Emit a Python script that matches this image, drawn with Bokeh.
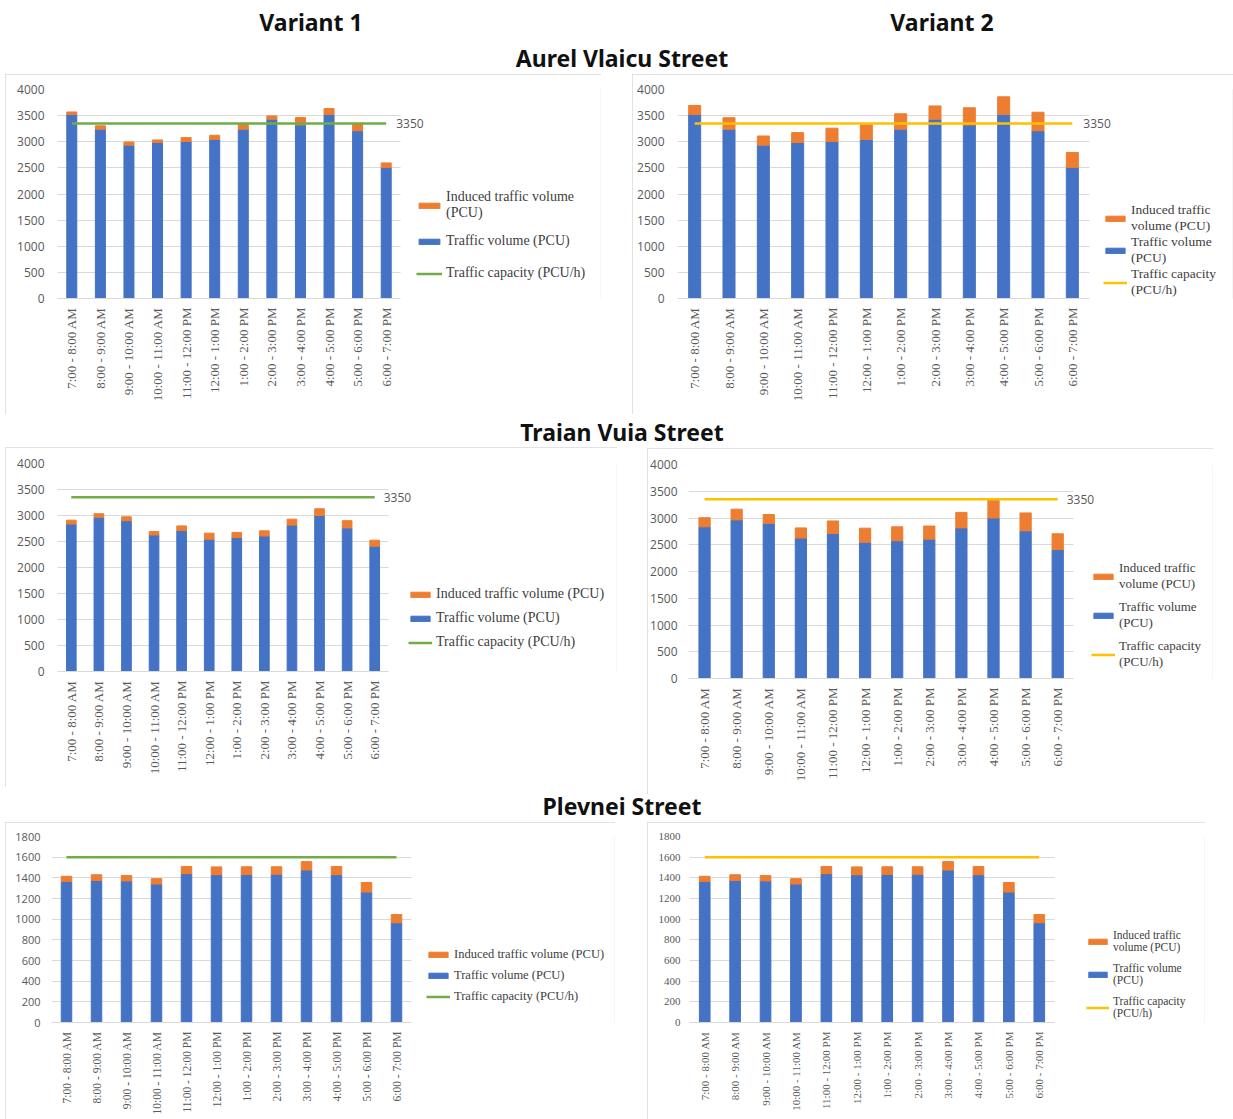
import math
from bokeh.plotting import figure
from bokeh.models import (ColumnDataSource, Range1d, FixedTicker, Legend, LegendItem, Div, Grid)
from bokeh.layouts import column, row
from bokeh.embed import file_html
from bokeh.resources import INLINE
from bokeh.core.properties import value

# ---------------- data ----------------
categories = ["7:00 - 8:00 AM", "8:00 - 9:00 AM", "9:00 - 10:00 AM", "10:00 - 11:00 AM",
              "11:00 - 12:00 PM", "12:00 - 1:00 PM", "1:00 - 2:00 PM", "2:00 - 3:00 PM",
              "3:00 - 4:00 PM", "4:00 - 5:00 PM", "5:00 - 6:00 PM", "6:00 - 7:00 PM"]

aurel_volume = [3520, 3240, 2935, 2985, 3005, 3045, 3240, 3430, 3320, 3520, 3210, 2505]
aurel_induced_v1 = [50, 65, 60, 50, 75, 80, 95, 65, 145, 115, 125, 90]
aurel_induced_v2 = [175, 220, 175, 190, 255, 280, 295, 255, 330, 340, 355, 290]
aurel_capacity = [3350, 3350, 3350, 3350, 3350, 3350, 3350, 3350, 3350, 3350, 3350, 3350]

traian_volume = [2835, 2965, 2900, 2625, 2710, 2545, 2575, 2605, 2815, 3000, 2760, 2410]
traian_induced_v1 = [75, 70, 75, 65, 90, 115, 100, 100, 115, 130, 140, 115]
traian_induced_v2 = [170, 200, 165, 190, 235, 265, 260, 245, 290, 345, 335, 295]
traian_capacity = [3350, 3350, 3350, 3350, 3350, 3350, 3350, 3350, 3350, 3350, 3350, 3350]

plevnei_volume = [1365, 1375, 1370, 1340, 1440, 1430, 1432, 1435, 1475, 1430, 1262, 965]
plevnei_induced_v1 = [50, 55, 52, 52, 70, 76, 75, 72, 82, 80, 93, 80]
plevnei_induced_v2 = [50, 55, 52, 52, 70, 76, 75, 72, 82, 80, 93, 80]
plevnei_capacity = [1600, 1600, 1600, 1600, 1600, 1600, 1600, 1600, 1600, 1600, 1600, 1600]

ticks_4000 = [0, 500, 1000, 1500, 2000, 2500, 3000, 3500, 4000]
ticks_1800 = [0, 200, 400, 600, 800, 1000, 1200, 1400, 1600, 1800]

labels_wide = ["Induced traffic volume\n(PCU)", "Traffic volume (PCU)", "Traffic capacity (PCU/h)"]
labels_one = ["Induced traffic volume (PCU)", "Traffic volume (PCU)", "Traffic capacity (PCU/h)"]
labels_narrow = ["Induced traffic\nvolume (PCU)", "Traffic volume\n(PCU)", "Traffic capacity\n(PCU/h)"]

BLUE = "#4472C4"
ORANGE = "#ED7D31"
GREEN = "#70AD47"
YELLOW = "#FFC000"
GRID = "#d9d9d9"
TICK = "#595959"

HAS_CROSS = "cross_bounds" in Grid.properties()


def make_panel(volume, induced, capacity, yticks, line_color, labels, cfg):
    n = len(categories)
    idx = list(range(n))
    src = ColumnDataSource(dict(x=idx, volume=volume, induced=induced, cap=capacity))
    frame_total = cfg["w"] - cfg["bl"] - 1
    x_end = -0.5 + frame_total * n / cfg["fw"]
    p = figure(width=cfg["w"], height=cfg["h"], x_range=Range1d(-0.5, x_end),
               y_range=Range1d(0, yticks[-1]), output_backend="svg", toolbar_location=None,
               min_border_left=cfg["bl"], min_border_right=1,
               min_border_top=cfg["bt"], min_border_bottom=cfg["h"] - cfg["bt"] - cfg["fh"],
               margin=(cfg.get("mt", 0), 0, 0, cfg["ml"]),
               styles={"outline": "1px solid #d9d9d9", "outline-offset": "-1px"})
    p.outline_line_color = None
    # grid / axes
    p.xgrid.grid_line_color = None
    if HAS_CROSS:
        p.ygrid.grid_line_color = GRID
        p.ygrid.cross_bounds = (-0.5, n - 0.5)
    else:
        p.ygrid.grid_line_color = None
        p.segment(x0=[-0.5] * len(yticks), x1=[n - 0.5] * len(yticks), y0=yticks, y1=yticks,
                  line_color=GRID, line_width=1)
    bars = p.vbar_stack(["volume", "induced"], x="x", width=0.35, color=[BLUE, ORANGE], source=src)
    ln = p.line("x", "cap", source=src, line_color=line_color, line_width=2.5)
    if cfg.get("cap_label"):
        p.text(x=[idx[-1]], y=[capacity[-1]], text=[str(capacity[-1])], x_offset=cfg["cap_dx"],
               text_baseline="middle", text_align="left", text_font=value("Open Sans"),
               text_font_size="12px", text_color=TICK)
    p.yaxis.ticker = FixedTicker(ticks=yticks)
    p.yaxis.axis_line_color = None
    p.yaxis.major_tick_line_color = None
    p.yaxis.minor_tick_line_color = None
    p.yaxis.major_tick_out = 0
    p.yaxis.major_tick_in = 0
    p.yaxis.minor_tick_out = 0
    p.yaxis.major_label_text_font = cfg.get("yfont", "Open Sans")
    p.yaxis.major_label_text_font_size = cfg["yfs"]
    p.yaxis.major_label_text_color = TICK
    p.yaxis.major_label_standoff = cfg["ystand"]
    p.xaxis.ticker = FixedTicker(ticks=idx)
    p.xaxis.major_label_overrides = {i: c for i, c in zip(idx, categories)}
    p.xaxis.bounds = (-0.5, n - 0.5)
    p.xaxis.axis_line_color = GRID
    p.xaxis.major_tick_line_color = None
    p.xaxis.minor_tick_line_color = None
    p.xaxis.major_tick_out = 0
    p.xaxis.major_tick_in = 0
    p.xaxis.minor_tick_out = 0
    p.xaxis.major_label_orientation = math.pi / 2
    p.xaxis.major_label_text_font = "Liberation Serif"
    p.xaxis.major_label_text_font_size = cfg["xfs"]
    p.xaxis.major_label_text_color = TICK
    p.xaxis.major_label_standoff = 9
    # legend
    items = [LegendItem(label=labels[0], renderers=[bars[1]]),
             LegendItem(label=labels[1], renderers=[bars[0]]),
             LegendItem(label=labels[2], renderers=[ln])]
    lg = Legend(items=items, location=(cfg["lx"], cfg["ly"]), orientation="vertical",
                label_text_font="Liberation Serif", label_text_font_size=cfg["lfs"],
                label_text_color="#404040", label_text_line_height=cfg["llh"],
                glyph_width=cfg["gw"], glyph_height=7, label_height=cfg["lh"],
                label_standoff=4, spacing=cfg["sp"], padding=0, margin=0,
                border_line_color=None, background_fill_alpha=0)
    p.add_layout(lg)
    return p


cfg_a1 = dict(w=596, h=340, ml=5, bl=52, fw=343, bt=15, fh=209, yfs="12px", ystand=13, xfs="13px",
              lx=359, ly=13, lfs="14px", llh=1.1, gw=26, lh=24, sp=8, cap_label=True, cap_dx=10)
cfg_a2 = dict(w=601, h=340, ml=31, bl=45, fw=412, bt=15, fh=209, yfs="12px", ystand=13, xfs="13px",
              lx=426, ly=0, lfs="13.5px", llh=1.0, gw=24, lh=14, sp=0, cap_label=True, cap_dx=11)
cfg_t1 = dict(w=612, h=340, ml=5, bl=52, fw=331, bt=16, fh=208, yfs="12px", ystand=13, xfs="13px",
              lx=351, ly=21, lfs="14px", llh=1.1, gw=24, lh=15, sp=8, cap_label=True, cap_dx=9)
cfg_t2 = dict(w=566, h=346, mt=1, ml=30, bl=40, fw=386, bt=16, fh=214, yfs="12px", ystand=11,
              xfs="13px", lx=403, ly=8, lfs="13px", llh=1.0, gw=24, lh=15, sp=7, cap_label=True,
              cap_dx=9)
cfg_p1 = dict(w=610, h=297, ml=5, bl=46, fw=360, bt=14, fh=186, yfs="11px", ystand=11, xfs="11.5px",
              lx=375, ly=18, lfs="12.5px", llh=1.1, gw=24, lh=14, sp=6, cap_label=False)
cfg_p2 = dict(w=558, h=297, ml=32, bl=42, fw=365, bt=14, fh=186, yfs="11px", ystand=9, xfs="11px",
              lx=397, ly=3, lfs="11.5px", llh=1.1, gw=23, lh=13, sp=9, cap_label=False,
              yfont="Liberation Serif")

a1 = make_panel(aurel_volume, aurel_induced_v1, aurel_capacity, ticks_4000, GREEN, labels_wide, cfg_a1)
a2 = make_panel(aurel_volume, aurel_induced_v2, aurel_capacity, ticks_4000, YELLOW, labels_narrow, cfg_a2)
t1 = make_panel(traian_volume, traian_induced_v1, traian_capacity, ticks_4000, GREEN, labels_one, cfg_t1)
t2 = make_panel(traian_volume, traian_induced_v2, traian_capacity, ticks_4000, YELLOW, labels_narrow, cfg_t2)
p1 = make_panel(plevnei_volume, plevnei_induced_v1, plevnei_capacity, ticks_1800, GREEN, labels_one, cfg_p1)
p2 = make_panel(plevnei_volume, plevnei_induced_v2, plevnei_capacity, ticks_1800, YELLOW, labels_narrow, cfg_p2)

TFONT = "font-family:'Noto Sans',sans-serif;font-weight:bold;font-size:23px;color:#111;line-height:28px;position:absolute;text-align:center;white-space:nowrap;"


def title_div(height, spans):
    html = '<div style="position:relative;width:1233px;height:%dpx;">' % height
    for txt, cx, top in spans:
        html += '<div style="%sleft:%dpx;width:600px;top:%dpx;">%s</div>' % (TFONT, cx - 300, top, txt)
    html += "</div>"
    return Div(text=html, width=1233, height=height, margin=(0, 0, 0, 0))


head = title_div(74, [("Variant 1", 311, 8), ("Variant 2", 942, 8), ("Aurel Vlaicu Street", 622, 44)])
mid1 = title_div(33, [("Traian Vuia Street", 622, 4)])
mid2 = title_div(28, [("Plevnei Street", 622, -2)])

layout = column(head, row(a1, a2, margin=(0, 0, 0, 0)), mid1, row(t1, t2, margin=(0, 0, 0, 0)),
                mid2, row(p1, p2, margin=(0, 0, 0, 0)), margin=(0, 0, 0, 0))

with open("out.html", "w") as f:
    f.write(file_html(layout, INLINE))
